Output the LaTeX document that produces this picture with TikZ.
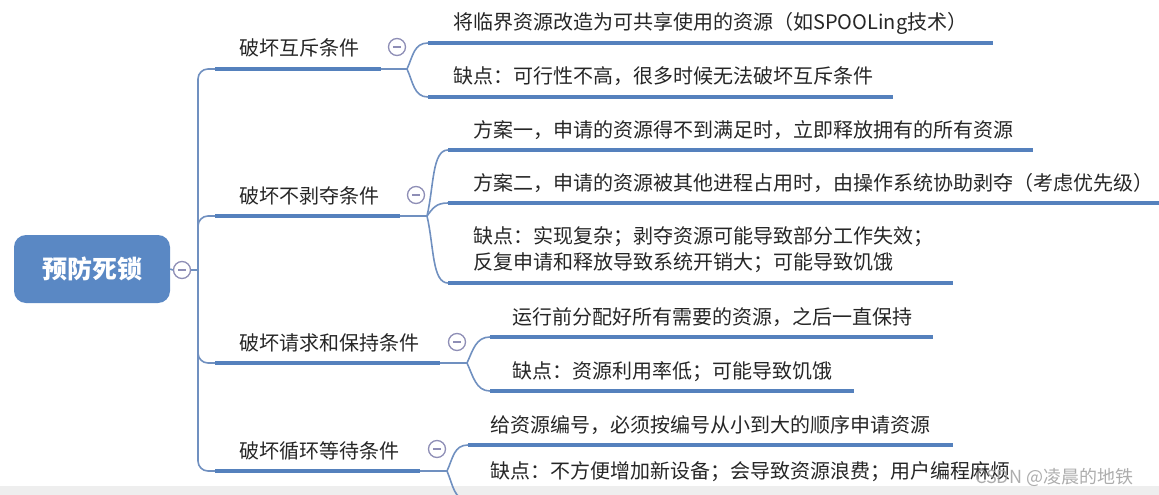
\documentclass[tikz,border=0pt]{standalone}
\usepackage{fontspec}
\usepackage{xcolor}
\usepackage{tikz}
\setmainfont{Noto Sans CJK SC}
\definecolor{rootblue}{HTML}{5A88C4}
\definecolor{barblue}{HTML}{5581BD}
\definecolor{linkblue}{HTML}{7090C0}
\definecolor{foldgray}{HTML}{8E8EB6}
\definecolor{inkgray}{HTML}{262626}
\definecolor{stripgray}{HTML}{EEEEEE}

\tikzset{
  rootbox/.style={
    fill=rootblue,
    rounded corners=12pt,
    minimum width=156pt,
    minimum height=68pt,
    text=white,
    font=\fontsize{25}{30}\selectfont\bfseries
  },
  topic/.style={
    anchor=base west,
    inner sep=0pt,
    text=inkgray,
    font=\fontsize{20}{26}\selectfont
  },
  bar/.style={draw=barblue, line width=4.5pt},
  link/.style={draw=linkblue, line width=1.6pt},
  fold/.style={
    circle,
    draw=foldgray,
    fill=white,
    line width=1.3pt,
    minimum size=17pt,
    inner sep=0pt,
    path picture={\draw[foldgray, line width=1.3pt]
      ([xshift=-4pt]path picture bounding box.center) --
      ([xshift=4pt]path picture bounding box.center);}
  }
}

\begin{document}
\begin{tikzpicture}[x=1pt, y=-1pt]
  \useasboundingbox (0,0) rectangle (1159,495);
  \fill[stripgray] (0,486) rectangle (1159,495);

  % root
  \node[rootbox] (root) at (92,269) {预防死锁};
  \node[fold] (rootfold) at (182,270) {};
  \coordinate (trunk) at (198,270);
  \draw[link] (root.east) -- (rootfold.west) (rootfold.east) -- (trunk);

  % branch 1
  \coordinate (mutexS) at (215,69);
  \coordinate (mutexE) at (381,69);
  \coordinate (mutexJ) at (407,69);
  \node[topic] (mutex) at (239,56) {破坏互斥条件};
  \node[fold] (mutexfold) at (397,47) {};
  \draw[link, rounded corners=10pt] (trunk) |- (mutexS);
  \draw[bar] (mutexS) -- (mutexE);
  \draw[link] (mutexE) -- (mutexJ);

  \coordinate (spoolS) at (428,43);
  \coordinate (spoolE) at (993,43);
  \node[topic] (spool) at (453,30) {将临界资源改造为可共享使用的资源（如SPOOLing技术）};
  \draw[bar] (spoolS) -- (spoolE);
  \draw[link] (mutexJ) .. controls +(6,-13) and +(-14,0) .. (spoolS);

  \coordinate (lowfeasS) at (428,97);
  \coordinate (lowfeasE) at (893,97);
  \node[topic] (lowfeas) at (453,84) {缺点：可行性不高，很多时候无法破坏互斥条件};
  \draw[bar] (lowfeasS) -- (lowfeasE);
  \draw[link] (mutexJ) .. controls +(6,13) and +(-14,0) .. (lowfeasS);

  % branch 2
  \coordinate (preemptS) at (215,216);
  \coordinate (preemptE) at (400,216);
  \coordinate (preemptJ) at (427,216);
  \node[topic] (preempt) at (239,203) {破坏不剥夺条件};
  \node[fold] (preemptfold) at (416,195) {};
  \draw[link, rounded corners=10pt] (trunk) |- (preemptS);
  \draw[bar] (preemptS) -- (preemptE);
  \draw[link] (preemptE) -- (preemptJ);

  \coordinate (planoneS) at (448,150);
  \coordinate (planoneE) at (1033,150);
  \node[topic] (planone) at (473,137) {方案一，申请的资源得不到满足时，立即释放拥有的所有资源};
  \draw[bar] (planoneS) -- (planoneE);
  \draw[link] (preemptJ) .. controls +(7,-30) and +(-16,0) .. (planoneS);

  \coordinate (plantwoS) at (448,203);
  \coordinate (plantwoE) at (1165,203);
  \node[topic] (plantwo) at (473,190) {方案二，申请的资源被其他进程占用时，由操作系统协助剥夺（考虑优先级）};
  \draw[bar] (plantwoS) -- (plantwoE);
  \draw[link] (preemptJ) .. controls +(6,-8) and +(-12,0) .. (plantwoS);

  \coordinate (costlyS) at (448,283);
  \coordinate (costlyE) at (953,283);
  \node[topic, anchor=west, align=left] (costly) at (473,250)
    {缺点：实现复杂；剥夺资源可能导致部分工作失效；\\反复申请和释放导致系统开销大；可能导致饥饿};
  \draw[bar] (costlyS) -- (costlyE);
  \draw[link] (preemptJ) .. controls +(7,30) and +(-16,0) .. (costlyS);

  % branch 3
  \coordinate (holdS) at (215,363);
  \coordinate (holdE) at (440,363);
  \coordinate (holdJ) at (467,363);
  \node[topic] (hold) at (239,350) {破坏请求和保持条件};
  \node[fold] (holdfold) at (457,342) {};
  \draw[link, rounded corners=10pt] (trunk) |- (holdS);
  \draw[bar] (holdS) -- (holdE);
  \draw[link] (holdE) -- (holdJ);

  \coordinate (allocS) at (490,337);
  \coordinate (allocE) at (933,337);
  \node[topic] (alloc) at (512,324) {运行前分配好所有需要的资源，之后一直保持};
  \draw[bar] (allocS) -- (allocE);
  \draw[link] (holdJ) .. controls +(6,-13) and +(-14,0) .. (allocS);

  \coordinate (lowuseS) at (490,391);
  \coordinate (lowuseE) at (854,391);
  \node[topic] (lowuse) at (512,378) {缺点：资源利用率低；可能导致饥饿};
  \draw[bar] (lowuseS) -- (lowuseE);
  \draw[link] (holdJ) .. controls +(6,13) and +(-14,0) .. (lowuseS);

  % branch 4
  \coordinate (cycleS) at (215,471);
  \coordinate (cycleE) at (420,471);
  \coordinate (cycleJ) at (447,471);
  \node[topic] (cycle) at (239,458) {破坏循环等待条件};
  \node[fold] (cyclefold) at (437,449) {};
  \draw[link, rounded corners=10pt] (trunk) |- (cycleS);
  \draw[bar] (cycleS) -- (cycleE);
  \draw[link] (cycleE) -- (cycleJ);

  \coordinate (numberS) at (468,445);
  \coordinate (numberE) at (953,445);
  \node[topic] (number) at (490,432) {给资源编号，必须按编号从小到大的顺序申请资源};
  \draw[bar] (numberS) -- (numberE);
  \draw[link] (cycleJ) .. controls +(6,-13) and +(-14,0) .. (numberS);

  \coordinate (wasteS) at (468,500);
  \coordinate (wasteE) at (1010,500);
  \node[topic] (waste) at (490,478) {缺点：不方便增加新设备；会导致资源浪费；用户编程麻烦};
  \draw[bar] (wasteS) -- (wasteE);
  \draw[link] (cycleJ) .. controls +(6,14) and +(-14,0) .. (wasteS);

  \node[topic, text=gray!75, opacity=0.85, font=\fontsize{18}{22}\selectfont] (mark) at (975,483) {CSDN @凌晨的地铁};
\end{tikzpicture}
\end{document}
